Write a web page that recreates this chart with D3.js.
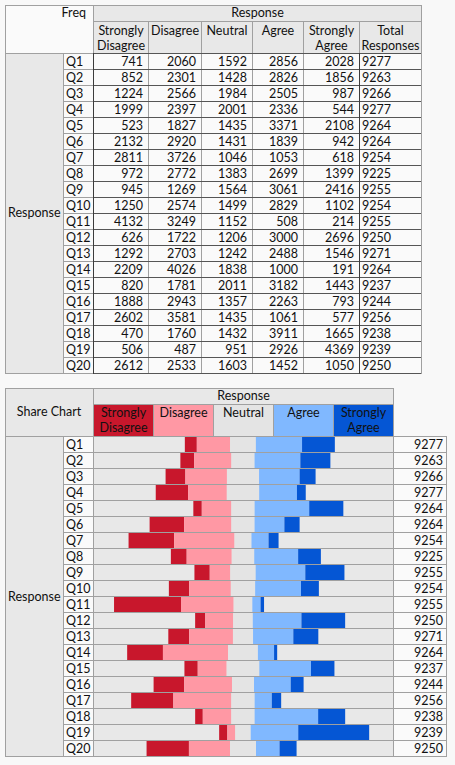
<!DOCTYPE html>
<html>
<head>
<meta charset="utf-8">
<script src="https://cdn.jsdelivr.net/npm/d3@7"></script>
<style>
  body { margin: 0; background: #f8f8f8; }
  svg { display: block; }
  text { font-family: Lato, "Noto Sans", sans-serif; font-size: 12.5px; fill: #111; }
</style>
</head>
<body>
<div id="vis"></div>
<script>
// data
var questions = d3.range(1, 21).map(function (i) { return 'Q' + i; });
var levels = ['Strongly Disagree', 'Disagree', 'Neutral', 'Agree', 'Strongly Agree'];
var stronglyDisagree = [741, 852, 1224, 1999, 523, 2132, 2811, 972, 945, 1250, 4132, 626, 1292, 2209, 820, 1888, 2602, 470, 506, 2612];
var disagree = [2060, 2301, 2566, 2397, 1827, 2920, 3726, 2772, 1269, 2574, 3249, 1722, 2703, 4026, 1781, 2943, 3581, 1760, 487, 2533];
var neutral = [1592, 1428, 1984, 2001, 1435, 1431, 1046, 1383, 1564, 1499, 1152, 1206, 1242, 1838, 2011, 1357, 1435, 1432, 951, 1603];
var agree = [2856, 2826, 2505, 2336, 3371, 1839, 1053, 2699, 3061, 2829, 508, 3000, 2488, 1000, 3182, 2263, 1061, 3911, 2926, 1452];
var stronglyAgree = [2028, 1856, 987, 544, 2108, 942, 618, 1399, 2416, 1102, 214, 2696, 1546, 191, 1443, 793, 577, 1665, 4369, 1050];
var totals = [9277, 9263, 9266, 9277, 9264, 9264, 9254, 9225, 9255, 9254, 9255, 9250, 9271, 9264, 9237, 9244, 9256, 9238, 9239, 9250];

var series = [stronglyDisagree, disagree, neutral, agree, stronglyAgree];
var colors = ['#c8172c', '#ff98a4', '#e4e4e4', '#80b8ff', '#0556d4'];

var width = 455, height = 765;
var headGray = '#e8e8e8', cellBg = '#fafafa', lineGray = '#a0a0a0', lineDark = '#3c3c3c';

var svg = d3.select('#vis').append('svg')
  .attr('width', width)
  .attr('height', height);

svg.append('rect').attr('width', width).attr('height', height).attr('fill', '#f8f8f8');

function cell(g, x0, y0, x1, y1, fill) {
  return g.append('rect')
    .attr('x', x0 + 0.5).attr('y', y0 + 0.5)
    .attr('width', x1 - x0).attr('height', y1 - y0)
    .attr('fill', fill)
    .attr('stroke', lineGray);
}

function label(g, x, y, str, anchor) {
  return g.append('text')
    .attr('x', x).attr('y', y)
    .attr('text-anchor', anchor || 'start')
    .text(str);
}

// two-line header text, centered in a cell
function headText(g, x0, x1, y0, str) {
  var words = str.split(' ');
  var cx = (x0 + x1) / 2 + 0.5;
  if (words.length === 1) {
    label(g, cx, y0 + 13.5, str, 'middle');
  } else {
    label(g, cx, y0 + 13.5, words[0], 'middle');
    label(g, cx, y0 + 29, words.slice(1).join(' '), 'middle');
  }
}

/* ---------------- frequency table ---------------- */
var freqTable = svg.append('g');
var colEdges = [93, 148, 201, 252, 303, 359, 421];
var freqHeads = levels.concat(['Total Responses']);
var y1 = d3.scaleBand().domain(questions).range([53, 373]);

cell(freqTable, 5, 5, 93, 53, cellBg);
label(freqTable, 86, 17, 'Freq', 'end');
cell(freqTable, 93, 5, 421, 21, headGray);
label(freqTable, 257.5, 17, 'Response', 'middle');

freqHeads.forEach(function (h, i) {
  cell(freqTable, colEdges[i], 21, colEdges[i + 1], 53, headGray);
  headText(freqTable, colEdges[i], colEdges[i + 1], 21, h);
});

cell(freqTable, 5, 53, 63, 373, headGray);
label(freqTable, 8, 217, 'Response');

var rows1 = freqTable.selectAll('g.row').data(questions).enter()
  .append('g').attr('class', 'row');

rows1.each(function (q, r) {
  var g = d3.select(this);
  var yy = y1(q);
  cell(g, 63, yy, 93, yy + y1.bandwidth(), cellBg);
  label(g, 66, yy + 12.5, q);
  series.forEach(function (s, i) {
    cell(g, colEdges[i], yy, colEdges[i + 1], yy + y1.bandwidth(), cellBg);
    label(g, colEdges[i + 1] - 5, yy + 12.5, s[r], 'end');
  });
  cell(g, colEdges[5], yy, colEdges[6], yy + y1.bandwidth(), cellBg);
  label(g, colEdges[5] + 3, yy + 12.5, totals[r]);
});

// darker rules in the body of the table
freqTable.selectAll('line.h').data(questions.concat(['end'])).enter()
  .append('line')
  .attr('x1', 93).attr('x2', 421)
  .attr('y1', function (q) { return (q === 'end' ? 373 : y1(q)) + 0.5; })
  .attr('y2', function (q) { return (q === 'end' ? 373 : y1(q)) + 0.5; })
  .attr('stroke', lineDark).attr('stroke-opacity', 0.75);
[93, 359].forEach(function (x) {
  freqTable.append('line')
    .attr('x1', x + 0.5).attr('x2', x + 0.5)
    .attr('y1', 53).attr('y2', 374)
    .attr('stroke', lineDark);
});

/* ---------------- share chart ---------------- */
var shareChart = svg.append('g');
var chartL = 93, chartR = 393, mid = (chartL + chartR) / 2;
var y2 = d3.scaleBand().domain(questions).range([436, 756]);
// share of responses -> pixels (half the chart width is 100%)
var x = d3.scaleLinear().domain([0, 1]).range([0, (chartR - chartL) / 2]);
var legendX = d3.scaleBand().domain(levels).range([chartL, chartR]);

cell(shareChart, 5, 388, 93, 436, headGray);
label(shareChart, 49, 416, 'Share Chart', 'middle');
cell(shareChart, chartL, 388, chartR, 404, headGray);
label(shareChart, mid + 0.5, 400, 'Response', 'middle');

levels.forEach(function (lv, i) {
  var x0 = legendX(lv);
  cell(shareChart, x0, 404, x0 + legendX.bandwidth(), 436, colors[i]);
  headText(shareChart, x0, x0 + legendX.bandwidth(), 403, lv);
});

cell(shareChart, 5, 436, 63, 756, headGray);
label(shareChart, 8, 601, 'Response');

// stack each row around the middle of the neutral share
var stacked = questions.map(function (q, r) {
  var shares = series.map(function (s) { return s[r] / totals[r]; });
  var start = -(shares[0] + shares[1] + shares[2] / 2);
  var segs = [];
  shares.forEach(function (v, i) {
    segs.push({ q: q, i: i, x0: start, x1: start + v });
    start += v;
  });
  return segs;
});

var rows2 = shareChart.selectAll('g.srow').data(questions).enter()
  .append('g').attr('class', 'srow');

rows2.each(function (q, r) {
  var g = d3.select(this);
  var yy = y2(q);
  cell(g, 63, yy, 93, yy + y2.bandwidth(), cellBg);
  label(g, 66, yy + 12.5, q);
  cell(g, chartL, yy, chartR, yy + y2.bandwidth(), headGray);
  g.selectAll('rect.seg').data(stacked[r]).enter()
    .append('rect').attr('class', 'seg')
    .attr('x', function (d) { return mid + x(d.x0); })
    .attr('y', yy + 1)
    .attr('width', function (d) { return x(d.x1) - x(d.x0); })
    .attr('height', y2.bandwidth() - 1)
    .attr('fill', function (d) { return colors[d.i]; });
  cell(g, chartR, yy, 446, yy + y2.bandwidth(), cellBg);
  label(g, 443, yy + 12.5, totals[r], 'end');
});
</script>
</body>
</html>
